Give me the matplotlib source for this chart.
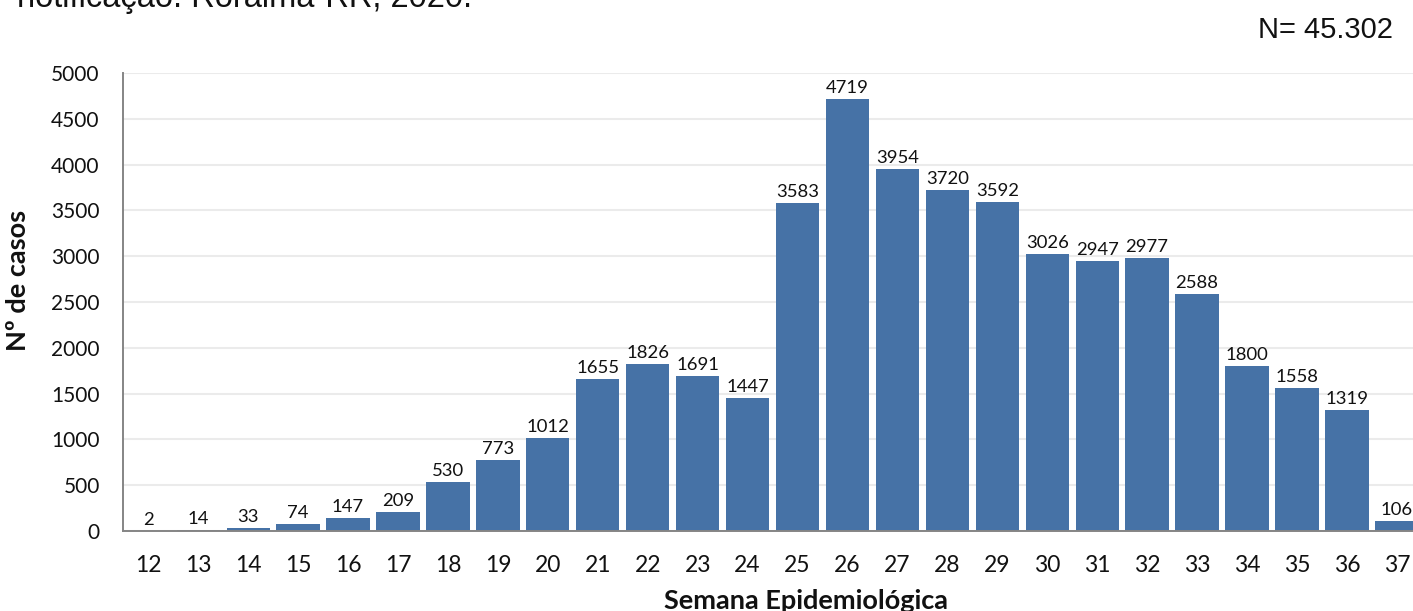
#!/usr/bin/env python3
"""Casos por semana epidemiologica, Roraima-RR, 2020."""

import matplotlib

matplotlib.use("Agg")

import matplotlib.pyplot as plt

semanas = list(range(12, 38))
casos = [2, 14, 33, 74, 147, 209, 530, 773, 1012, 1655, 1826, 1691, 1447,
         3583, 4719, 3954, 3720, 3592, 3026, 2947, 2977, 2588, 1800, 1558,
         1319, 106]
y_ticks = list(range(0, 5001, 500))

titulo = "notificação. Roraima-RR, 2020."
total = "N= 45.302"
x_label = "Semana Epidemiológica"
y_label = "Nº de casos"

BAR_COLOR = "#4672a6"
GRID_COLOR = "#ebebeb"
SPINE_COLOR = "#858585"


def main():
    plt.rcParams["font.family"] = ["Lato", "DejaVu Sans"]

    dpi = 100
    fig = plt.figure(figsize=(14.13, 6.11), dpi=dpi)
    ax = fig.add_axes([0.0873, 0.1309, 0.9189, 0.7496])

    positions = list(range(len(semanas)))
    ax.bar(positions, casos, width=0.867, color=BAR_COLOR, zorder=3)

    for x, v in zip(positions, casos):
        ax.annotate(str(v), (x, v), xytext=(0, 6), textcoords="offset pixels",
                    ha="center", va="baseline", fontsize=13.3, color="#111111",
                    zorder=4, annotation_clip=False)

    ax.set_xlim(-0.5, len(semanas) - 0.5)
    ax.set_ylim(0, 5000)
    ax.set_xticks(positions)
    ax.set_xticklabels([str(s) for s in semanas], fontsize=16.5)
    ax.set_yticks(y_ticks)
    ax.set_yticklabels([str(t) for t in y_ticks], fontsize=15)
    ax.tick_params(axis="both", length=0, colors="#111111")
    ax.tick_params(axis="x", pad=17)
    ax.tick_params(axis="y", pad=17)

    ax.grid(axis="y", color=GRID_COLOR, linewidth=1.5, zorder=0)
    ax.set_axisbelow(True)
    for side in ("top", "right"):
        ax.spines[side].set_visible(False)
    for side in ("left", "bottom"):
        ax.spines[side].set_color(SPINE_COLOR)
        ax.spines[side].set_linewidth(1.4)
        ax.spines[side].set_zorder(5)

    ax.set_xlabel(x_label, fontsize=19.5, fontweight="bold", color="#111111")
    ax.xaxis.set_label_coords(0.5257, -0.127)
    ax.set_ylabel(y_label, fontsize=19.5, fontweight="bold", color="#111111")
    ax.yaxis.set_label_coords(-0.072, 0.548)

    fig.text(17 / 1413, 1 - 7.5 / 611, titulo, family="Liberation Sans",
             fontsize=23.5, ha="left", va="baseline", color="#111111")
    fig.text(1393 / 1413, 1 - 38 / 611, total, family="Liberation Sans",
             fontsize=21, ha="right", va="baseline", color="#111111")

    fig.savefig("out.png", dpi=dpi)
    plt.close(fig)


if __name__ == "__main__":
    main()
